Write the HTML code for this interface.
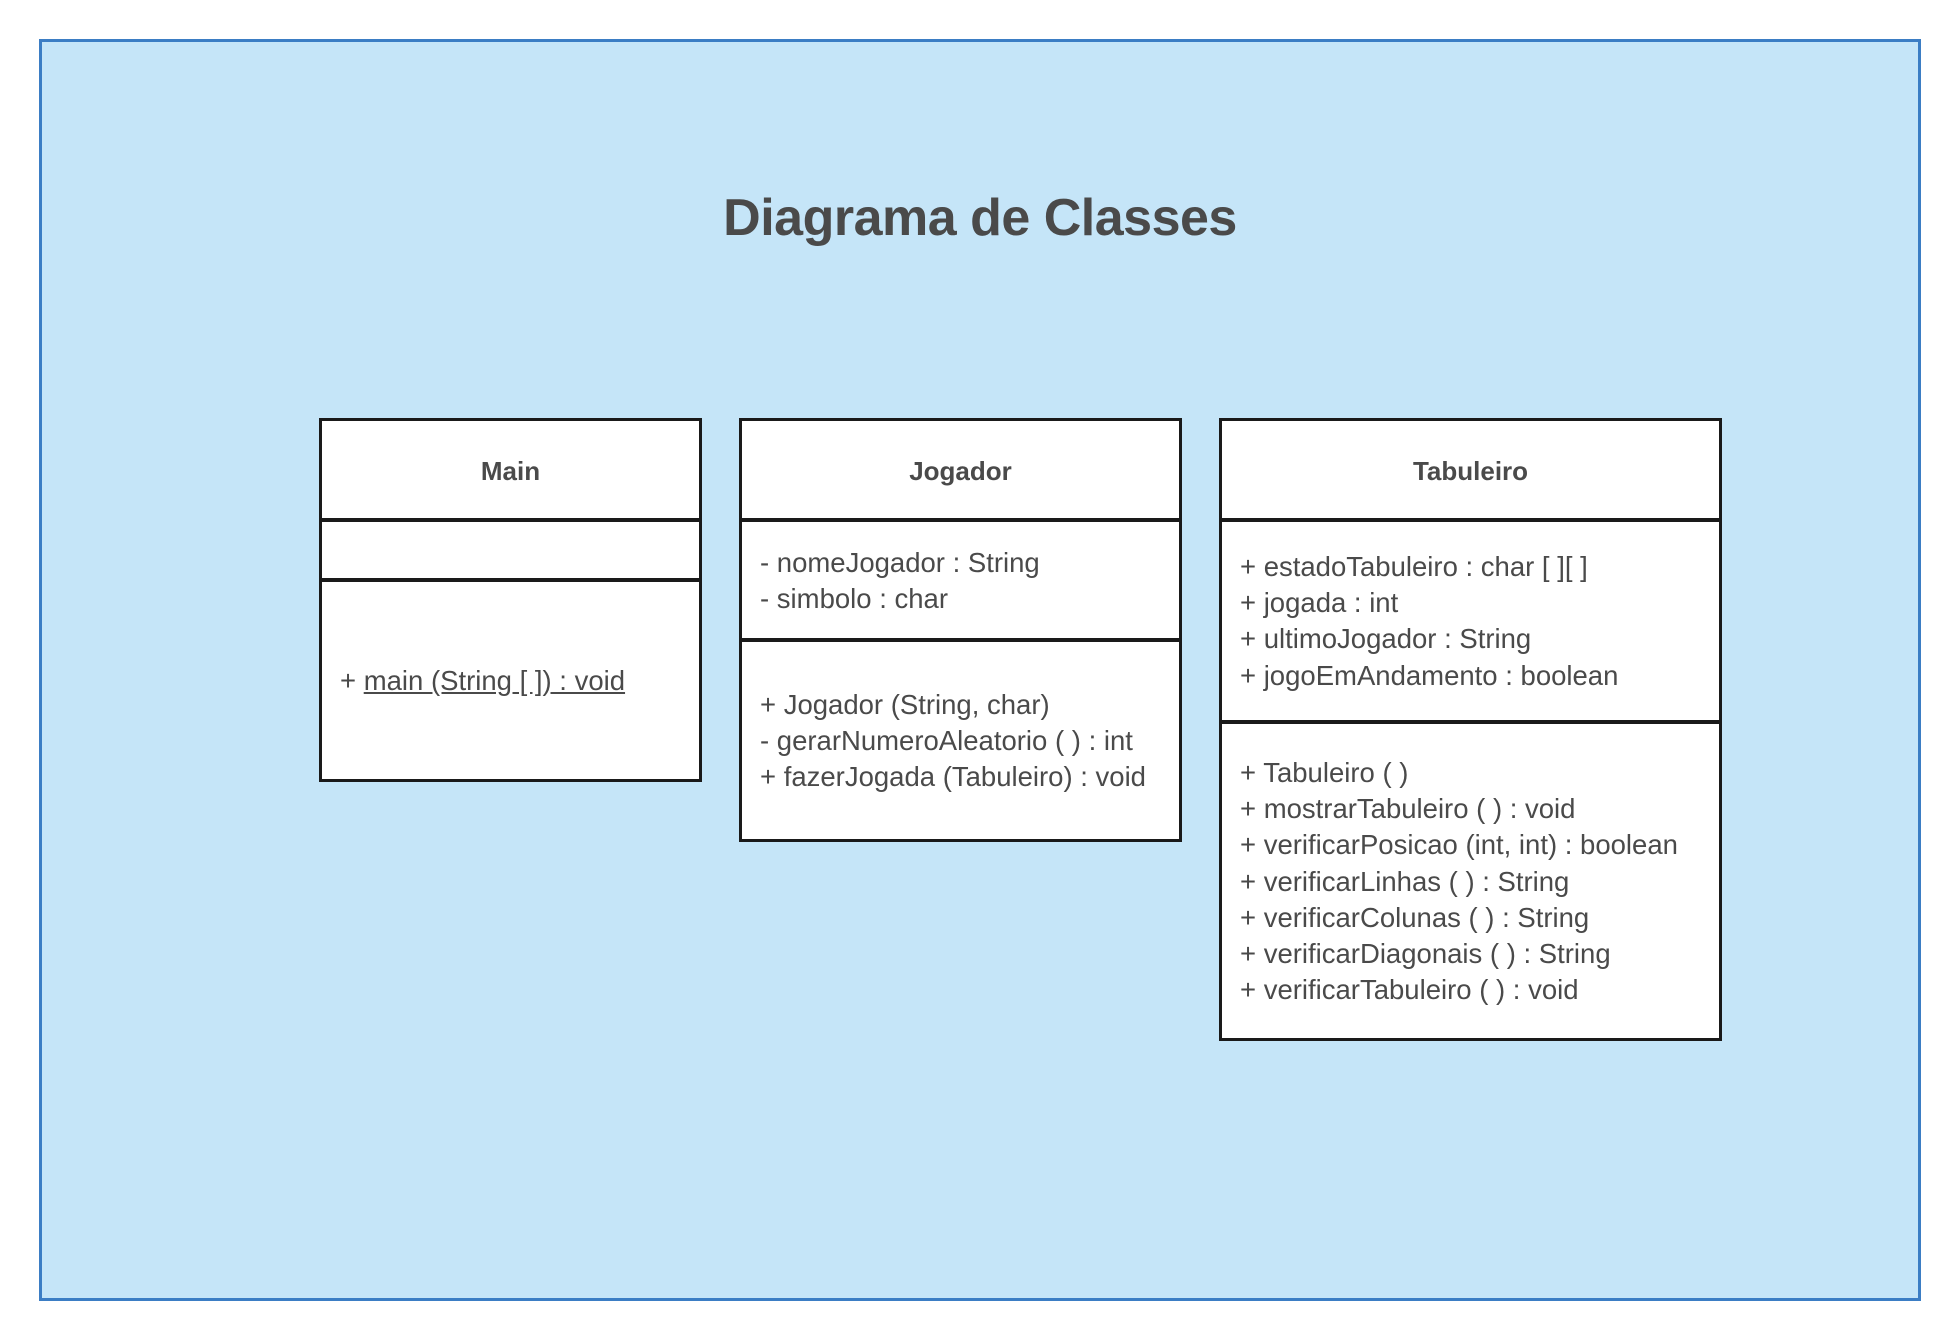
<!DOCTYPE html>
<html><head><meta charset="utf-8"><style>
body{margin:0;width:1960px;height:1340px;background:#fff;position:relative;font-family:"Liberation Sans",sans-serif;color:#4a4a4a;overflow:hidden}
.frame{position:absolute;left:39px;top:39px;width:1876px;height:1256px;background:#c5e5f8;border:3px solid #3b7dc4}
.title{position:absolute;left:0;width:1960px;top:186px;text-align:center;font-size:52px;font-weight:bold;line-height:64px;letter-spacing:-0.5px}
.box{position:absolute;background:#fff;border:3.5px solid #1a1a1a;box-sizing:border-box}
.hl{position:absolute;left:0;right:0;height:3.5px;background:#1a1a1a}
.h{position:absolute;left:0;right:0;text-align:center;font-weight:bold;font-size:26px;line-height:36px}
.t{position:absolute;font-size:27.5px;line-height:36.2px;white-space:nowrap}
</style></head><body>
<div class="frame"></div>
<div class="title">Diagrama de Classes</div>

<div class="box" style="left:319px;top:418px;width:383px;height:364px">
<div class="h" style="top:32px">Main</div>
<div class="hl" style="top:97px"></div>
<div class="hl" style="top:157px"></div>
</div>
<div class="t" style="left:340px;top:663px">+ <u>main (String [ ]) : void</u></div>

<div class="box" style="left:739px;top:418px;width:443px;height:424px">
<div class="h" style="top:32px">Jogador</div>
<div class="hl" style="top:97px"></div>
<div class="hl" style="top:217px"></div>
</div>
<div class="t" style="left:760px;top:545px">- nomeJogador : String<br>- simbolo : char</div>
<div class="t" style="left:760px;top:687px">+ Jogador (String, char)<br>- gerarNumeroAleatorio ( ) : int<br>+ fazerJogada (Tabuleiro) : void</div>

<div class="box" style="left:1219px;top:418px;width:503px;height:623px">
<div class="h" style="top:32px">Tabuleiro</div>
<div class="hl" style="top:97px"></div>
<div class="hl" style="top:299px"></div>
</div>
<div class="t" style="left:1240px;top:549px">+ estadoTabuleiro : char [ ][ ]<br>+ jogada : int<br>+ ultimoJogador : String<br>+ jogoEmAndamento : boolean</div>
<div class="t" style="left:1240px;top:755px">+ Tabuleiro ( )<br>+ mostrarTabuleiro ( ) : void<br>+ verificarPosicao (int, int) : boolean<br>+ verificarLinhas ( ) : String<br>+ verificarColunas ( ) : String<br>+ verificarDiagonais ( ) : String<br>+ verificarTabuleiro ( ) : void</div>
</body></html>
